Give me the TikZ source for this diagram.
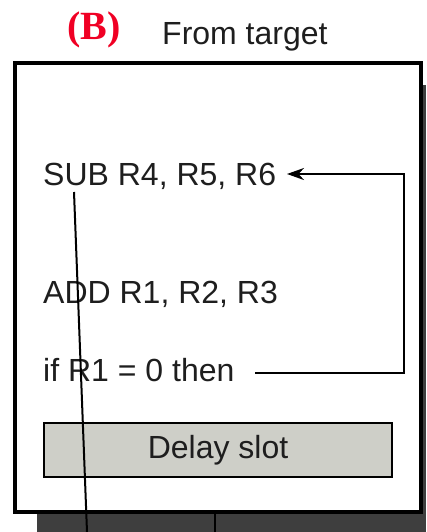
\documentclass[tikz,border=0pt]{standalone}
\usepackage{fontspec}
\setmainfont{Liberation Sans}
\newfontfamily\serifbold{Liberation Serif}
\usetikzlibrary{arrows.meta,calc}
\definecolor{txt}{RGB}{30,30,30}
\definecolor{shadowc}{RGB}{62,62,62}
\definecolor{slotc}{RGB}{206,207,200}
\definecolor{labred}{RGB}{240,0,36}
\tikzset{
  code/.style={anchor=base west, inner sep=0pt, text=txt, font=\fontsize{32}{38}\selectfont},
  frame/.style={draw=black, line width=3.2pt, fill=white},
  slotbox/.style={draw=black, line width=2.8pt, fill=slotc, minimum width=348pt, minimum height=54pt, inner sep=0pt, text=txt, font=\fontsize{32}{38}\selectfont},
  loop/.style={draw=black, line width=2.4pt, -{Stealth[length=17pt,width=12pt]}},
  wire/.style={draw=black, line width=2pt},
}
\begin{document}
\begin{tikzpicture}[x=1pt,y=-1pt]
\useasboundingbox (0,0) rectangle (426,532);
% shadow and frame
\fill[shadowc] (37,85) rectangle (426,532);
\node[frame, minimum width=406pt, minimum height=449pt, inner sep=0pt] (box) at (218,287.5) {};
% titles
\node[anchor=base, inner sep=0pt, text=labred, font=\serifbold\bfseries\fontsize{40}{44}\selectfont] (lab) at (94,40) {(B)};
\node[anchor=base west, inner sep=0pt, text=txt, font=\fontsize{32}{38}\selectfont] (from) at (162,45) {From target};
% code lines
\node[code] (sub) at (43,185) {SUB R4, R5, R6};
\node[code] (add) at (43,303) {ADD R1, R2, R3};
\node[code] (ifr) at (43,381) {if R1 = 0 then};
\node[slotbox] (slot) at (218,450) {Delay slot};
% branch loop
\coordinate (ls) at (255,373);
\coordinate (lc) at (404,373);
\coordinate (le) at (287,174);
\draw[loop] (ls) -- (lc) |- (le);
% wires leaving the box
\coordinate (wtop) at (74,192);
\coordinate (wbot) at (87,532);
\draw[wire] (wtop) -- (wbot);
\coordinate (vtop) at (215,513);
\coordinate (vbot) at (215,532);
\draw[draw=black, line width=2.4pt] (vtop) -- (vbot);
\end{tikzpicture}
\end{document}
